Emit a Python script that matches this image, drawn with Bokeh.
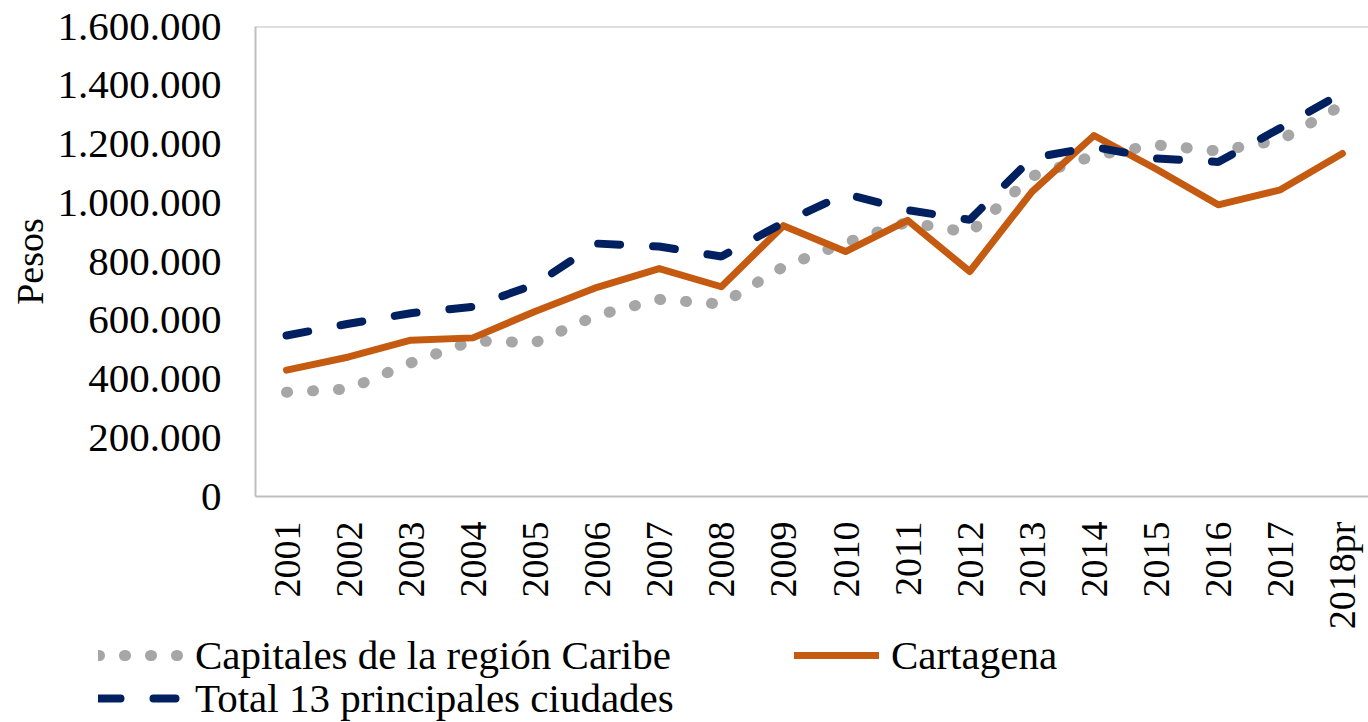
import math
from bokeh.plotting import figure
from bokeh.models import Range1d, FixedTicker, Legend, LegendItem, Span
from bokeh.embed import file_html
from bokeh.resources import INLINE

years = ["2001", "2002", "2003", "2004", "2005", "2006", "2007", "2008", "2009",
         "2010", "2011", "2012", "2013", "2014", "2015", "2016", "2017", "2018pr"]
capitales = [355000, 366000, 455000, 530000, 524000, 617000, 671000, 655000, 782000,
             864000, 934000, 898000, 1090000, 1160000, 1197000, 1176000, 1214000, 1332000]
cartagena = [430000, 475000, 532000, 540000, 630000, 712000, 776000, 714000, 922000,
             834000, 940000, 766000, 1037000, 1229000, 1115000, 993000, 1044000, 1168000]
total13 = [548000, 588000, 624000, 646000, 722000, 861000, 851000, 817000, 932000,
           1030000, 975000, 942000, 1152000, 1190000, 1151000, 1139000, 1254000, 1374000]
y_ticks = [0, 200000, 400000, 600000, 800000, 1000000, 1200000, 1400000, 1600000]
y_tick_labels = ["0", "200.000", "400.000", "600.000", "800.000", "1.000.000",
                 "1.200.000", "1.400.000", "1.600.000"]

names = ["Capitales de la región Caribe", "Cartagena", "Total 13 principales ciudades"]
series = [capitales, cartagena, total13]

FONT = "Liberation Serif"
GRID = "#BFBFBF"
STYLES = [
    dict(line_color="#A6A6A6", line_width=11, line_dash="1 25", line_cap="round"),
    dict(line_color="#C55A11", line_width=7, line_join="round", line_cap="round"),
    dict(line_color="#002060", line_width=8, line_dash="22 33", line_cap="round"),
]

xs = [i + 0.5 for i in range(len(years))]

p = figure(width=1368, height=632, output_backend="svg", toolbar_location=None,
           title=None, x_range=Range1d(0, 17.92), y_range=Range1d(0, 1600000),
           min_border_left=255, min_border_right=0, min_border_top=26,
           min_border_bottom=135)
p.outline_line_color = None
p.grid.visible = False

for vals, st in zip(series, STYLES):
    p.line(xs, vals, **st)

p.add_layout(Span(location=1600000, dimension="width", line_color=GRID, line_width=2))

xa = p.xaxis[0]
xa.ticker = FixedTicker(ticks=xs)
xa.major_label_overrides = {x: y for x, y in zip(xs, years)}
xa.major_label_orientation = math.pi / 2
xa.major_tick_line_color = None
xa.minor_tick_line_color = None
xa.axis_line_color = GRID
xa.axis_line_width = 2
xa.major_label_text_font = FONT
xa.major_label_text_font_size = "38px"
xa.major_label_text_color = "black"
xa.major_label_standoff = 19

ya = p.yaxis[0]
ya.ticker = FixedTicker(ticks=y_ticks)
ya.major_label_overrides = {t: l for t, l in zip(y_ticks, y_tick_labels)}
ya.major_tick_line_color = None
ya.minor_tick_line_color = None
ya.axis_line_color = GRID
ya.axis_line_width = 2
ya.major_label_text_font = FONT
ya.major_label_text_font_size = "41px"
ya.major_label_text_color = "black"
ya.major_label_standoff = 28
ya.axis_label = "Pesos"
ya.axis_label_text_font = FONT
ya.axis_label_text_font_size = "38px"
ya.axis_label_text_font_style = "normal"
ya.axis_label_text_color = "black"
ya.axis_label_standoff = 4

# legend strip (separate root so it is not frame-aligned with the chart)
lp = figure(width=1368, height=90, output_backend="svg", toolbar_location=None,
            title=None, x_range=Range1d(0, 1), y_range=Range1d(0, 1),
            x_axis_location=None, y_axis_location=None,
            min_border_left=0, min_border_right=0, min_border_top=0, min_border_bottom=0)
lp.outline_line_color = None
lp.grid.visible = False
# same series drawn here only to feed the legend samples; they fall outside this strip's range
rs = [lp.line(xs, vals, **st) for vals, st in zip(series, STYLES)]

def style_legend(lg):
    lg.border_line_color = None
    lg.background_fill_alpha = 0
    lg.padding = 0
    lg.margin = 0
    lg.label_text_font = FONT
    lg.label_text_font_size = "41px"
    lg.label_text_color = "black"
    lg.label_text_baseline = "middle"
    lg.glyph_width = 85
    lg.glyph_height = 30
    lg.label_standoff = 12
    lg.label_height = 30

leg1 = Legend(items=[LegendItem(label=names[0], renderers=[rs[0]]),
                     LegendItem(label=names[1], renderers=[rs[1]])],
              orientation="horizontal", location=(98, 43), spacing=123)
leg2 = Legend(items=[LegendItem(label=names[2], renderers=[rs[2]])],
              orientation="horizontal", location=(98, 0))
style_legend(leg1)
style_legend(leg2)
lp.add_layout(leg1, "center")
lp.add_layout(leg2, "center")

open("out.html", "w").write(file_html([p, lp], INLINE))
